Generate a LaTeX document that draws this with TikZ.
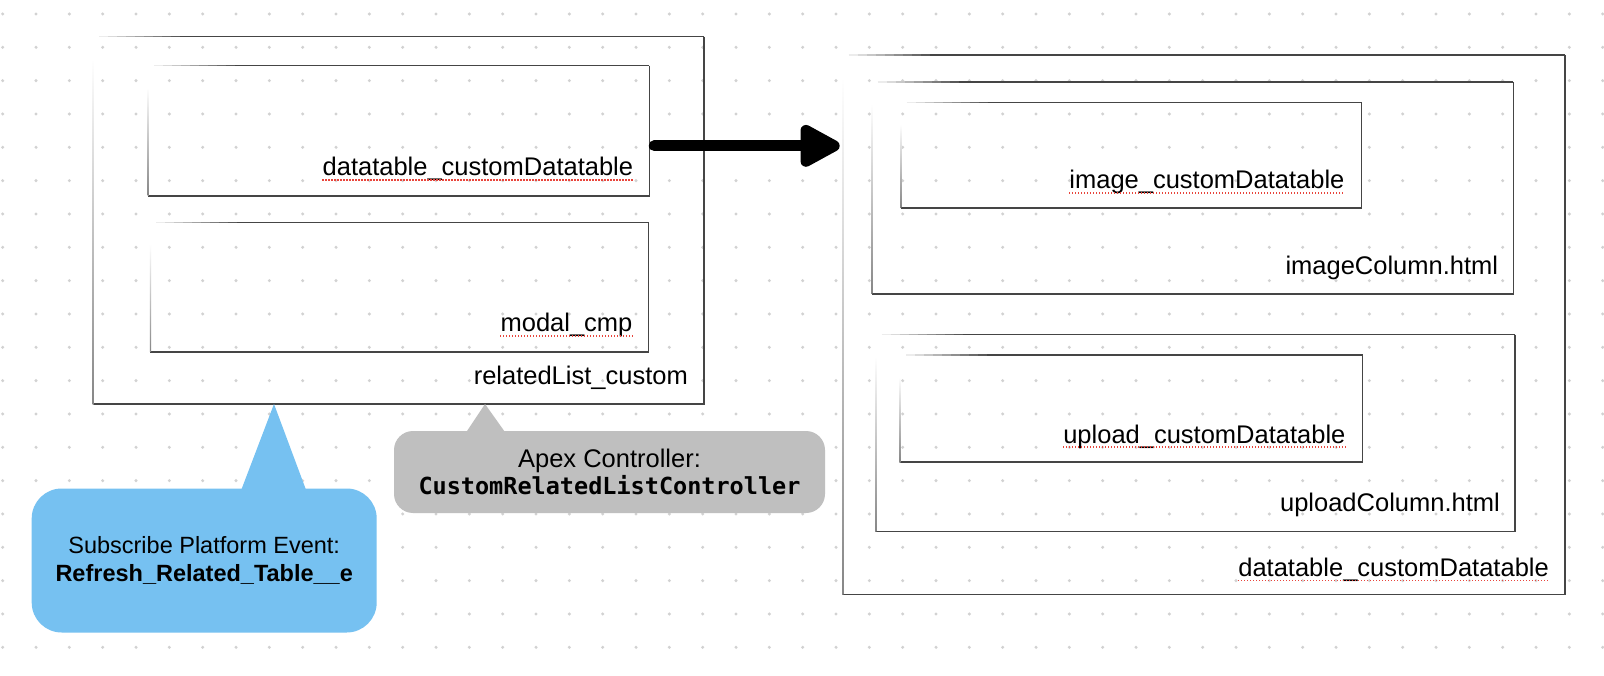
\documentclass[tikz,border=0pt]{standalone}
\usepackage{fontspec}
\setmainfont{Liberation Sans}
\newfontfamily\codefont{DejaVu Sans Mono}
\usepackage{tikz}
\usetikzlibrary{calc,arrows.meta}

\definecolor{dotgray}{HTML}{D2D2D2}
\definecolor{boxgray}{HTML}{454545}
\definecolor{eventblue}{HTML}{76C1F1}
\definecolor{apexgray}{HTML}{BFBFBF}
\definecolor{spellred}{HTML}{E8453C}

\tikzset{
  boxarea/.style={inner sep=0pt, outer sep=0pt},
  boxline/.style={draw=boxgray, line width=1.5pt},
  lbl/.style={anchor=base east, inner sep=0pt, font=\fontsize{25.5}{30}\selectfont},
  spell/.style={draw=spellred, line width=1.1pt, dash pattern=on 1.1pt off 1.9pt},
  calltext/.style={font=\fontsize{23.5}{27.3}\selectfont, align=center, inner sep=0pt},
  brush/.style={draw=black, line width=11pt, line cap=round},
}

% name, x1, y1, x2, y2 (pixels, y going down)
\newcommand{\sketchbox}[5]{%
  \path ({(#2+#4)/2},{(#3+#5)/2}) node[boxarea, minimum width={(#4-#2)*1pt}, minimum height={(#5-#3)*1pt}] (#1) {};
  \draw[boxline] (#1.north east) -- (#1.south east) -- (#1.south west);
  \foreach \k in {1,...,10}{%
    \pgfmathtruncatemacro\p{10*\k}%
    \draw[boxline, draw=boxgray!\p] ($(#1.north west)+({6+9*(\k-1)},0)$) -- ($(#1.north west)+({6.5+9*\k},0)$);
  }
  \draw[boxline] ($(#1.north west)+(96,0)$) -- (#1.north east);
  \shade[top color=white, bottom color=boxgray!65] ($(#1.north west)+(-0.6,22)$) rectangle ($(#1.south west)+(0.6,0)$);
}

\begin{document}
\begin{tikzpicture}[x=1pt,y=-1pt]
\fill[white] (0,0) rectangle (1604,676);
\useasboundingbox (0,0) rectangle (1604,676);

% dot grid
\foreach \i in {0,...,48}
  \foreach \j in {0,...,19}
    \fill[dotgray] ({2.7+33.333*\i},{14+33.333*\j}) circle (1.7pt);

% left component
\sketchbox{rlc}{93.3}{36.7}{704}{404}
\sketchbox{dtl}{148.3}{65.7}{649.3}{196}
\sketchbox{mdl}{150.4}{222.4}{648.6}{352}

% right component
\sketchbox{dto}{842.7}{55}{1565}{594.3}
\sketchbox{imc}{871.7}{82}{1513.3}{293.8}
\sketchbox{imd}{900.7}{102.3}{1361.6}{208}
\sketchbox{upc}{875.7}{334.6}{1515}{531.7}
\sketchbox{upd}{900}{355}{1362.6}{462}

\node[lbl] (dtlT) at ($(dtl.south east)+(-16,-20)$) {datatable\_customDatatable};
\node[lbl] (mdlT) at ($(mdl.south east)+(-16,-20)$) {modal\_cmp};
\node[lbl] (rlcT) at ($(rlc.south east)+(-16,-20)$) {relatedList\_custom};
\node[lbl] (imdT) at ($(imd.south east)+(-17,-19)$) {image\_customDatatable};
\node[lbl] (imcT) at ($(imc.south east)+(-15,-19)$) {imageColumn.html};
\node[lbl] (updT) at ($(upd.south east)+(-17,-19)$) {upload\_customDatatable};
\node[lbl] (upcT) at ($(upc.south east)+(-15,-20)$) {uploadColumn.html};
\node[lbl] (dtoT) at ($(dto.south east)+(-16,-18)$) {datatable\_customDatatable};

\foreach \t in {dtlT,mdlT,imdT,updT,dtoT}
  \draw[spell] ($(\t.base west)+(0,4)$) -- ($(\t.base east)+(0,4)$);

% arrow
\coordinate (arrS) at ($(dtl.east)+(5,15)$);
\draw[brush, -{Triangle[length=46pt, width=46pt, round]}] (arrS) -- ($(arrS -| dto.west)+(-3,0)$);

% callouts
\node[fill=eventblue, rounded corners=30pt, minimum width=345pt, minimum height=144pt, calltext] (evt) at (204.2,560.5)
  {Subscribe Platform Event:\\\textbf{Refresh\_Related\_Table\_\_e}};
\fill[eventblue] ($(rlc.south west)+(180.7,0)$) -- ($(evt.north west)+(210,1)$) -- ($(evt.north west)+(274.3,1)$) -- cycle;

\node[fill=apexgray, rounded corners=19pt, minimum width=431pt, minimum height=82pt, calltext] (apx) at (609.5,472)
  {{\fontsize{25.5}{27.3}\selectfont Apex Controller:}\\{\codefont\bfseries CustomRelatedListController}};
\fill[apexgray] ($(rlc.south west)+(391.7,0)$) -- ($(apx.north west)+(72.7,1)$) -- ($(apx.north west)+(111,1)$) -- cycle;

\end{tikzpicture}
\end{document}
